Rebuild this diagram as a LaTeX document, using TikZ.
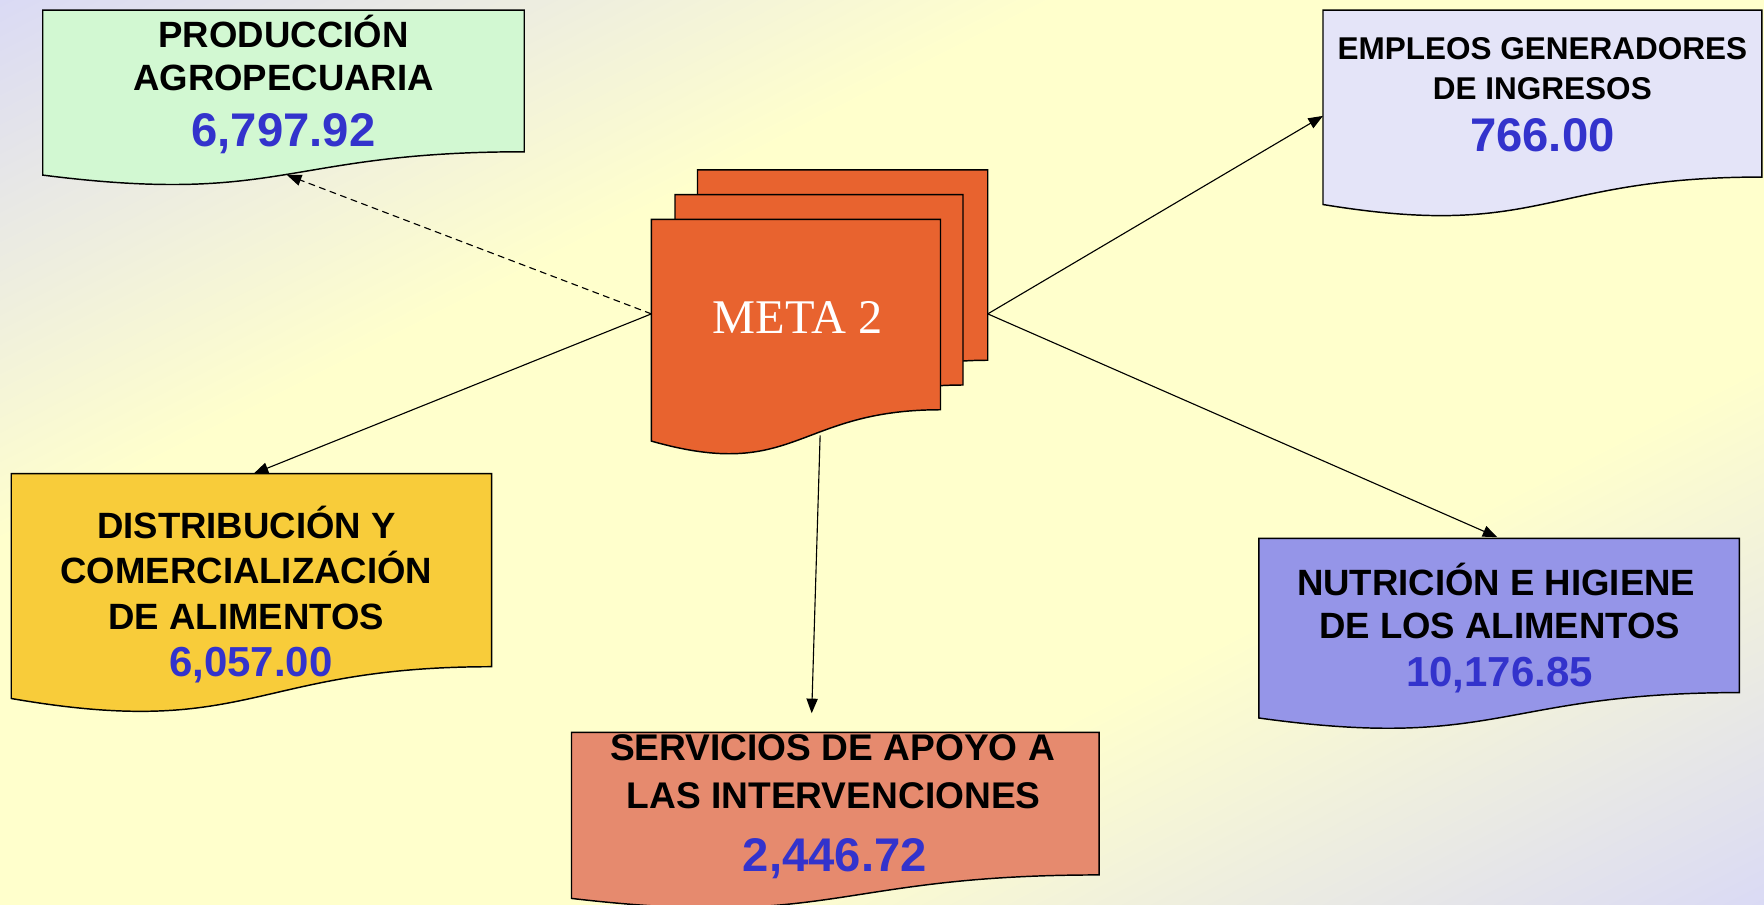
\documentclass[tikz,border=0pt]{standalone}
\usepackage{fontspec}
\setmainfont{Liberation Sans}
\newfontfamily\metafont{Liberation Serif}
\usetikzlibrary{calc,arrows.meta}
\definecolor{numblue}{HTML}{3333CC}
\definecolor{fillprod}{HTML}{D2F8D2}
\definecolor{fillemp}{HTML}{E4E4F8}
\definecolor{filldist}{HTML}{F8CC3A}
\definecolor{fillnutr}{HTML}{9595E8}
\definecolor{fillserv}{HTML}{E68A6E}
\definecolor{fillmeta}{HTML}{E8632F}
% background: pale yellow along the bottom-left/top-right diagonal, lavender in the other two corners
% (the path's bounding box is the shading's [25bp,75bp] square)
\pgfdeclarefunctionalshading{bgfun}{\pgfpointorigin}{\pgfpoint{100bp}{100bp}}{}{%
  sub abs 50 div 0.4 sub 0.6 div
  dup 0 lt {pop 0} if dup 1 gt {pop 1} if
  dup -0.145 mul 1 add
  dup
  3 -1 roll
  0.16 mul 0.8 add
}
\newcommand\docshape[2]{%
  \path[#2] (#1.north west) -- (#1.north east)
   -- ($(#1.north east)!0.802!(#1.south east)$)
   .. controls ($(#1.north)!0.802!(#1.south)$) and ($(#1.north)!1.1075!(#1.south)$)
   .. ($(#1.north west)!0.934!(#1.south west)$) -- cycle;}
\tikzset{
  frame/.style={inner sep=0pt, outer sep=0pt, anchor=north west, draw=none},
  docline/.style={draw=black, line width=1.3pt, line join=miter},
  ttl/.style={anchor=base, inner sep=0pt, font=\bfseries\fontsize{32.5}{39}\selectfont},
  ttlsmall/.style={anchor=base, inner sep=0pt, font=\bfseries\fontsize{28}{34}\selectfont},
  numbig/.style={anchor=base, inner sep=0pt, text=numblue, font=\bfseries\fontsize{42}{48}\selectfont},
  numsmall/.style={anchor=base, inner sep=0pt, text=numblue, font=\bfseries\fontsize{37.3}{44}\selectfont},
  link/.style={line width=1pt, -{Triangle[length=13pt,width=10pt]}},
}
\begin{document}
\begin{tikzpicture}[x=1pt,y=-1pt]
\useasboundingbox (0,0) rectangle (1568,804);
\shade[shading=bgfun] (0,0) rectangle (1568,804);

% frames
\node[frame, minimum width=428pt, minimum height=157pt] (prod) at (38,9) {};
\node[frame, minimum width=390pt, minimum height=185pt] (emp) at (1176,9) {};
\node[frame, minimum width=427pt, minimum height=214pt] (dist) at (10,421) {};
\node[frame, minimum width=427pt, minimum height=171pt] (nutr) at (1119,478.5) {};
\node[frame, minimum width=469pt, minimum height=158pt] (serv) at (508,651) {};
\node[frame, minimum width=258pt, minimum height=211pt] (back) at (620,151) {};
\node[frame, minimum width=256pt, minimum height=211pt] (mid) at (600,173) {};
\node[frame, minimum width=257pt, minimum height=211pt] (front) at (579,195) {};

\docshape{prod}{docline, fill=fillprod}
\docshape{emp}{docline, fill=fillemp}
\docshape{dist}{docline, fill=filldist}
\docshape{nutr}{docline, fill=fillnutr}
\docshape{serv}{docline, fill=fillserv}
\docshape{back}{docline, fill=fillmeta}
\docshape{mid}{docline, fill=fillmeta}
\docshape{front}{docline, fill=fillmeta}

% texts
\node[ttl] (prodA) at (252,42) {PRODUCCIÓN};
\node[ttl] (prodB) at (252,80.6) {AGROPECUARIA};
\node[numbig] (prodN) at (252,130.4) {6,797.92};

\node[ttlsmall] (empA) at (1371,53) {EMPLEOS GENERADORES};
\node[ttlsmall] (empB) at (1371,88) {DE INGRESOS};
\node[numbig] (empN) at (1371,134.8) {766.00};

\node[ttl] (distA) at (219,478.5) {DISTRIBUCIÓN Y};
\node[ttl] (distB) at (219,518.5) {COMERCIALIZACIÓN};
\node[ttl] (distC) at (219,559.5) {DE ALIMENTOS};
\node[numsmall] (distN) at (223,601) {6,057.00};

\node[ttl] (nutrA) at (1330,529) {NUTRICIÓN E HIGIENE};
\node[ttl] (nutrB) at (1333,567.5) {DE LOS ALIMENTOS};
\node[numsmall] (nutrN) at (1333,610.5) {10,176.85};

\node[ttl, font=\bfseries\fontsize{33}{40}\selectfont] (servA) at (740,676) {SERVICIOS DE APOYO A};
\node[ttl, font=\bfseries\fontsize{33}{40}\selectfont] (servB) at (741,719) {LAS INTERVENCIONES};
\node[numbig] (servN) at (742,775) {2,446.72};

\node[anchor=base, inner sep=0pt, text=white, font=\metafont\fontsize{43}{50}\selectfont] (metaT) at (709,296) {META 2};

% connectors
\coordinate (metaL) at ($(front.north west)+(0,84)$);
\coordinate (metaR) at ($(back.north east)+(0,128)$);
\coordinate (metaB) at ($(front.north west)+(150,192)$);
\draw[link, dashed, dash pattern=on 6pt off 4pt] (metaL) -- ($(prod.north west)+(217,146.5)$);
\draw[link] (metaL) -- ($(dist.north)+(2,0)$);
\draw[link] (metaB) -- ($(serv.north)+(-21,-17)$);
\draw[link] (metaR) -- ($(emp.north west)+(0,94)$);
\draw[link] (metaR) -- ($(nutr.north)+(-1.5,-1)$);
\end{tikzpicture}
\end{document}
